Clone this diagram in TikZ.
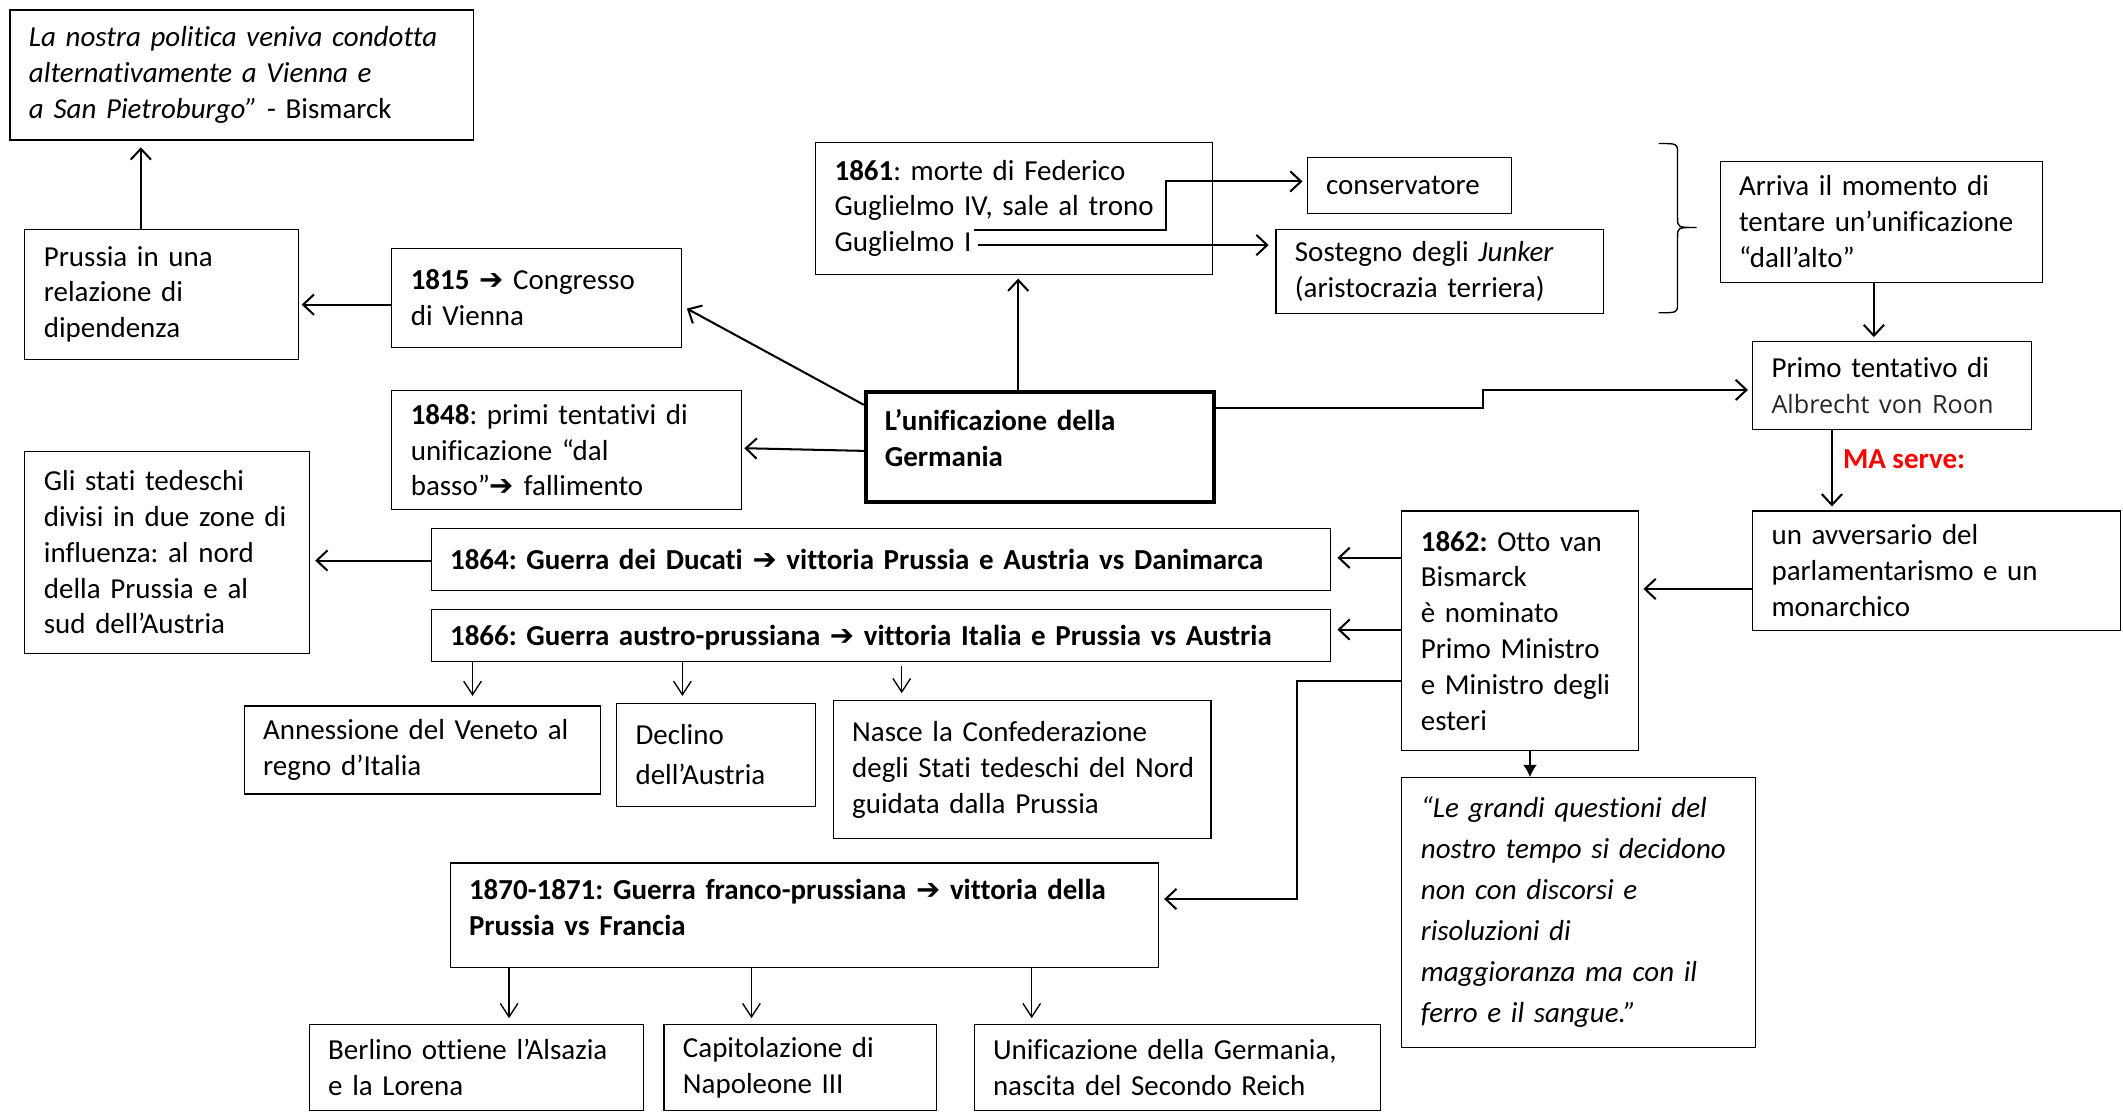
\documentclass[tikz,border=0pt]{standalone}
\usepackage{fontspec}
\setmainfont{Carlito}[Ligatures={TeX,CommonOff}]
\newfontfamily\symf[Scale=1.0]{DejaVu Sans}
\newfontfamily\roonf{Open Sans}
\usetikzlibrary{arrows.meta}
\newcommand\rarr{{\symf ➔}}
\definecolor{mared}{RGB}{255,0,0}
\frenchspacing
\begin{document}
\begin{tikzpicture}[x=1pt,y=-1pt,
  bx/.style={draw, line width=0.8pt, rectangle, anchor=north west, align=left,
    inner xsep=14pt, inner ysep=0pt, font=\fontsize{21.4}{26.5}\selectfont\frenchspacing},
  mainbx/.style={bx, line width=3pt, font=\fontsize{21.4}{26.5}\selectfont\bfseries},
  cn/.style={line width=1.5pt, -{Straight Barb[length=8pt,width=15pt]}},
  tn/.style={line width=1pt, -{Straight Barb[length=10pt,width=13pt]}},
  fn/.style={line width=1.2pt, -{Latex[length=9pt,width=10pt]}},
  brc/.style={line width=1pt}]
\useasboundingbox (0,0) rectangle (1568,822);
\fill[white] (0,0) rectangle (1568,822);

% boxes
\node[bx, minimum width=342pt, minimum height=96pt, text width=314pt] (A) at (7,7)
  {\textit{La nostra politica veniva condotta}\\\textit{alternativamente a Vienna e}\\\textit{a San Pietroburgo”} - Bismarck};
\node[bx, minimum width=202pt, minimum height=96pt, text width=174pt] (B) at (18,169)
  {Prussia in una\\relazione di\\dipendenza};
\node[bx, minimum width=214pt, minimum height=73pt, text width=186pt] (C) at (289,183)
  {\textbf{1815} \rarr{} Congresso\\di Vienna};
\node[bx, minimum width=258pt, minimum height=88pt, text width=230pt] (D) at (289,288)
  {\textbf{1848}: primi tentativi di\\unificazione “dal\\basso”\rarr{} fallimento};
\node[mainbx, minimum width=257pt, minimum height=81pt, text width=229pt, text depth=40pt] (E) at (638,288)
  {L’unificazione della\\Germania};
\node[bx, minimum width=293pt, minimum height=97pt, text width=265pt] (F) at (602,105)
  {\textbf{1861}: morte di Federico\\Guglielmo IV, sale al trono\\Guglielmo I};
\node[bx, minimum width=151pt, minimum height=41pt, text width=123pt] (G) at (965,116)
  {conservatore};
\node[bx, minimum width=242pt, minimum height=62pt, text width=214pt] (H) at (942,169)
  {Sostegno degli \textit{Junker}\\(aristocrazia terriera)};
\node[bx, minimum width=238pt, minimum height=89pt, text width=210pt] (J) at (1270,119)
  {Arriva il momento di\\\mbox{tentare un’unificazione}\\“dall’alto”};
\node[bx, minimum width=206pt, minimum height=65pt, text width=178pt] (K) at (1294,252)
  {Primo tentativo di\\{\roonf\fontsize{18.6}{26.5}\selectfont\color{black!85}Albrecht von Roon}};
\node[bx, minimum width=272pt, minimum height=88pt, text width=244pt] (M) at (1294,377)
  {un avversario del\\parlamentarismo e un\\monarchico};
\node[bx, minimum width=175pt, minimum height=177pt, text width=147pt] (N) at (1035,377)
  {\textbf{1862:} Otto van\\Bismarck\\è nominato\\Primo Ministro\\\mbox{e Ministro degli}\\esteri};
\node[bx, minimum width=261pt, minimum height=199pt, text width=233pt,
      font=\fontsize{21.4}{30.3}\selectfont\itshape] (O) at (1035,574)
  {“Le grandi questioni del\\\mbox{nostro tempo si decidono}\\non con discorsi e\\risoluzioni di\\maggioranza ma con il\\ferro e il sangue.”};
\node[bx, minimum width=664pt, minimum height=46pt, text width=636pt, font=\fontsize{21.4}{26.5}\selectfont\bfseries] (P) at (318,390)
  {1864: Guerra dei Ducati \rarr{} vittoria Prussia e Austria vs Danimarca};
\node[bx, minimum width=664pt, minimum height=38pt, text width=636pt, text depth=0pt, font=\fontsize{21.4}{26.5}\selectfont\bfseries] (Q) at (318,450)
  {1866: Guerra austro-prussiana \rarr{} vittoria Italia e Prussia vs Austria};
\node[bx, minimum width=210pt, minimum height=149pt, text width=182pt] (R) at (18,333)
  {Gli stati tedeschi\\divisi in due zone di\\influenza: al nord\\della Prussia e al\\sud dell’Austria};
\node[bx, minimum width=263pt, minimum height=65pt, text width=235pt] (S) at (180,521)
  {Annessione del Veneto al\\regno d’Italia};
\node[bx, minimum width=147pt, minimum height=76pt, text width=119pt, font=\fontsize{21.4}{30}\selectfont] (T) at (455,519)
  {Declino\\dell’Austria};
\node[bx, minimum width=279pt, minimum height=102pt, text width=251pt] (U) at (615,517)
  {Nasce la Confederazione\\\mbox{degli Stati tedeschi del Nord}\\guidata dalla Prussia};
\node[bx, minimum width=523pt, minimum height=77pt, text width=495pt, text depth=38pt, font=\fontsize{21.4}{26.5}\selectfont\bfseries] (V) at (332,637)
  {1870-1871: Guerra franco-prussiana \rarr{} vittoria della\\Prussia vs Francia};
\node[bx, minimum width=247pt, minimum height=64pt, text width=219pt] (W) at (228,756)
  {Berlino ottiene l’Alsazia\\e la Lorena};
\node[bx, minimum width=201pt, minimum height=64pt, text width=173pt] (X) at (490,756)
  {Capitolazione di\\Napoleone III};
\node[bx, minimum width=300pt, minimum height=64pt, text width=272pt] (Y) at (719,756)
  {Unificazione della Germania,\\nascita del Secondo Reich};

\node[anchor=west, inner sep=0pt, text=mared, font=\fontsize{21.4}{26.5}\selectfont\bfseries] (ma) at (1361,339) {MA serve:};

% brace
\draw[brc] (1225,106) .. controls (1239,106) .. (1239,113) -- (1239,161)
  .. controls (1239,168) .. (1253,168) .. controls (1239,168) .. (1239,175)
  -- (1239,224) .. controls (1239,231) .. (1225,231);

% connectors
\draw[cn, shorten >=5pt] (B.north -| 104,0) -- (A.south -| 104,0);
\draw[cn, shorten >=2pt] (C.west |- 0,225) -- (B.east |- 0,225);
\draw[cn, shorten >=4pt] (E.west |- 0,299) -- (C.east |- 0,226);
\draw[cn, shorten >=2pt] (E.west |- 0,333) -- (D.east |- 0,331);
\draw[cn, shorten >=3pt] (E.north -| 752,0) -- (F.south -| 752,0);
\coordinate (f1) at (719,170);
\coordinate (f2) at (722,181);
\draw[cn, shorten >=3pt] (f1) -- (f1 -| 861,0) |- (G.west |- 0,134);
\draw[cn, shorten >=5pt] (f2) -- (H.west |- f2);
\draw[cn, shorten >=3pt] (E.east |- 0,301) -- (1095,301) -- (1095,288) -- (K.west |- 0,288);
\draw[cn, shorten >=3pt] (J.south -| 1384,0) -- (K.north -| 1384,0);
\draw[cn, shorten >=3pt] (K.south -| 1353,0) -- (M.north -| 1353,0);
\draw[cn, shorten >=3pt] (M.west |- 0,435) -- (N.east |- 0,435);
\draw[cn, shorten >=5pt] (N.west |- 0,412) -- (P.east |- 0,412);
\draw[cn, shorten >=5pt] (N.west |- 0,465) -- (Q.east |- 0,465);
\draw[cn, shorten >=4pt] (N.west |- 0,503) -- (958,503) |- (V.east |- 0,664);
\draw[fn] (N.south -| 1130,0) -- (O.north -| 1130,0);
\draw[cn, shorten >=4pt] (P.west |- 0,414) -- (R.east |- 0,414);
\draw[tn, shorten >=7pt] (Q.south -| 349,0) -- (S.north -| 349,0);
\draw[tn, shorten >=5pt] (Q.south -| 504,0) -- (T.north -| 504,0);
\draw[tn, shorten <=3pt, shorten >=5pt] (Q.south -| 666,0) -- (U.north -| 666,0);
\draw[tn, shorten >=4pt] (V.south -| 376,0) -- (W.north -| 376,0);
\draw[tn, shorten >=4pt] (V.south -| 555,0) -- (X.north -| 555,0);
\draw[tn, shorten >=4pt] (V.south -| 762,0) -- (Y.north -| 762,0);
\end{tikzpicture}
\end{document}
